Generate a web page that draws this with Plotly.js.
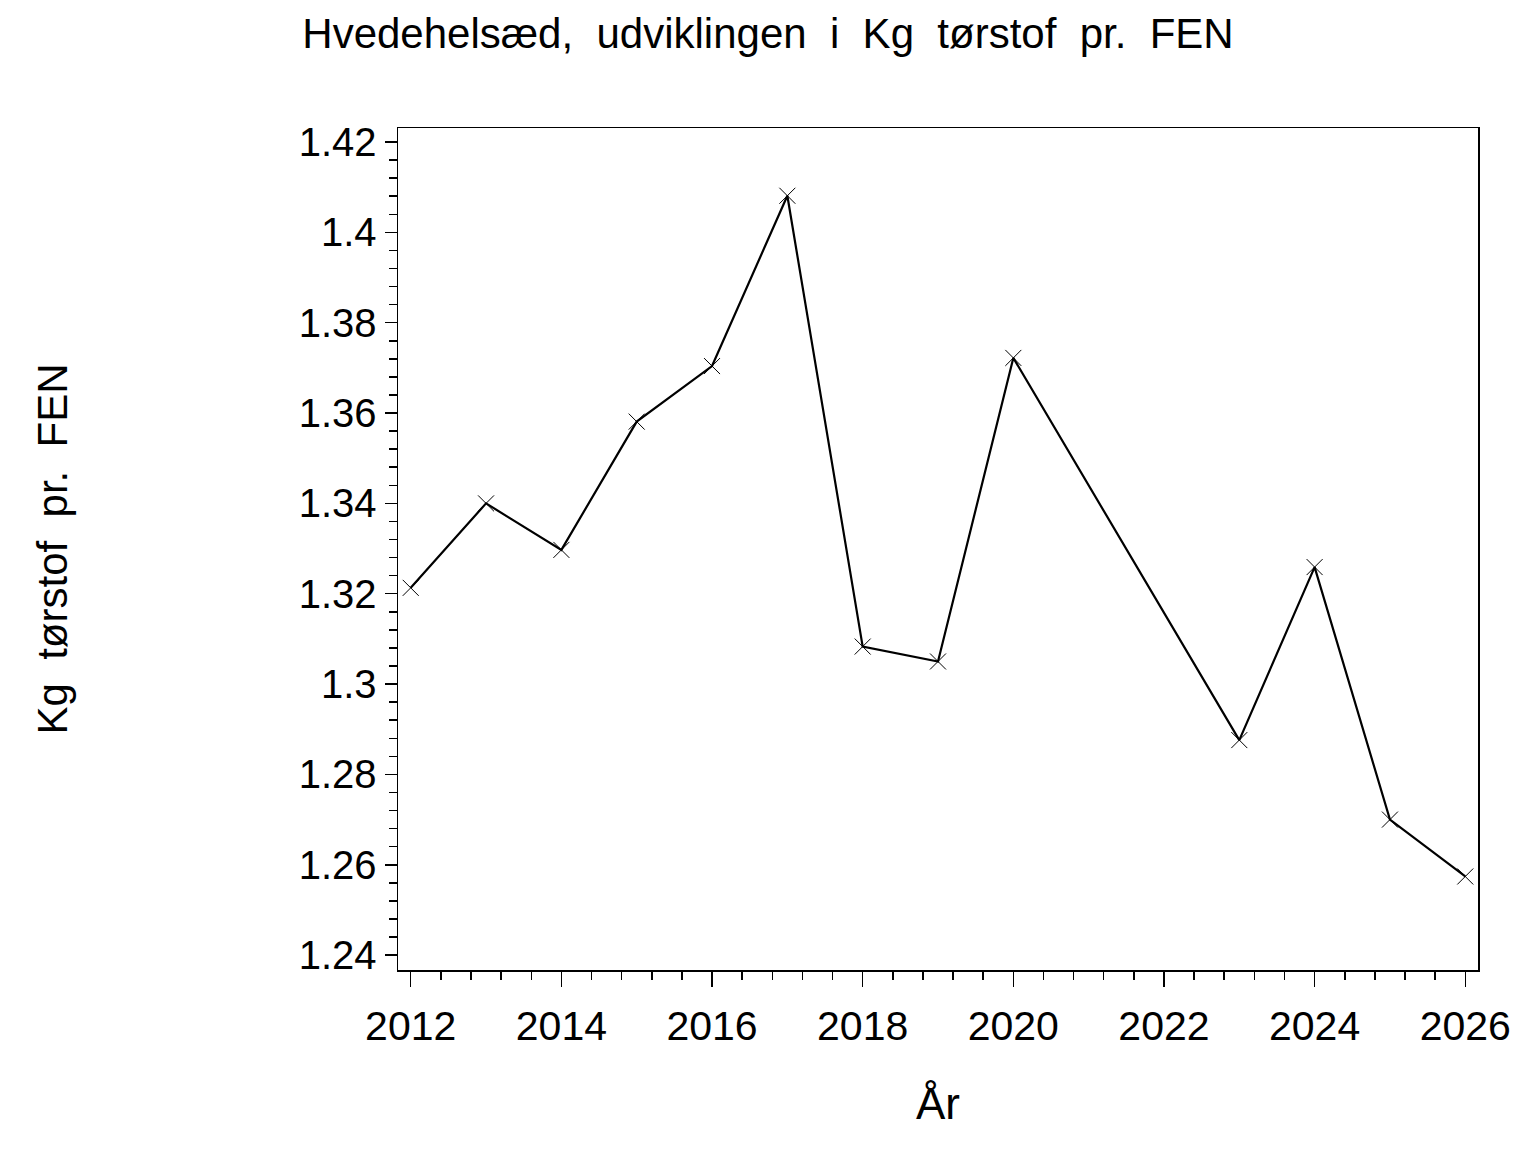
<!DOCTYPE html>
<html>
<head>
<meta charset="utf-8">
<script src="https://cdn.plot.ly/plotly-3.0.1.min.js"></script>
<style>html,body{margin:0;padding:0;background:#fff;}#chart{width:1536px;height:1152px;}</style>
</head>
<body>
<div id="chart"></div>
<script>
const years = [2012, 2013, 2014, 2015, 2016, 2017, 2018, 2019, 2020, 2023, 2024, 2025, 2026];
const kgPerFEN = [1.3213, 1.3400, 1.3297, 1.3581, 1.3704, 1.4081, 1.3083, 1.3050, 1.3722, 1.2876, 1.3259, 1.2700, 1.2574];
const titleText = "Hvedehelsæd,\u00a0 udviklingen\u00a0 i\u00a0 Kg\u00a0 tørstof\u00a0 pr.\u00a0 FEN";
const xTitle = "År";
const yTitle = "Kg\u00a0 tørstof\u00a0 pr.\u00a0 FEN";

const font = "Liberation Sans, Arial, Helvetica, sans-serif";

const trace = {
  x: years,
  y: kgPerFEN,
  type: "scatter",
  mode: "lines+markers",
  line: {color: "#000", width: 2.2},
  marker: {symbol: "x-thin-open", size: 16, color: "#000", line: {color: "#000", width: 1}},
  showlegend: false,
  hoverinfo: "x+y"
};

const layout = {
  width: 1536,
  height: 1152,
  paper_bgcolor: "#fff",
  plot_bgcolor: "#fff",
  margin: {l: 398, r: 58, t: 128, b: 182, pad: 0},
  font: {family: font, color: "#000"},
  title: {
    text: titleText,
    font: {size: 42, family: font, color: "#000"},
    x: 0.5, xref: "container", xanchor: "center",
    y: 1 - 19/1152, yref: "container", yanchor: "top"
  },
  xaxis: {
    range: [2011.831, 2026.169],
    dtick: 2, tick0: 2012,
    ticks: "outside", ticklen: 15, tickwidth: 1.5, tickcolor: "#000",
    minor: {dtick: 0.4, tick0: 2012, ticks: "outside", ticklen: 8, tickwidth: 1.5, tickcolor: "#000"},
    showgrid: false, zeroline: false,
    showline: true, linecolor: "#000", linewidth: 1.5, mirror: true,
    tickfont: {size: 41, family: font, color: "#000"},
    ticklabelstandoff: 4,
    title: {text: xTitle, font: {size: 44, family: font, color: "#000"}, standoff: 40},
    automargin: false
  },
  yaxis: {
    range: [1.2367, 1.4231],
    dtick: 0.02, tick0: 1.24,
    ticks: "outside", ticklen: 12, tickwidth: 1.5, tickcolor: "#000",
    minor: {dtick: 0.004, tick0: 1.24, ticks: "outside", ticklen: 8, tickwidth: 1.5, tickcolor: "#000"},
    showgrid: false, zeroline: false,
    showline: true, linecolor: "#000", linewidth: 1.5, mirror: true,
    tickfont: {size: 40, family: font, color: "#000"},
    title: {text: yTitle, font: {size: 42, family: font, color: "#000"}, standoff: 218},
    automargin: false
  }
};

Plotly.newPlot("chart", [trace], layout, {displayModeBar: false, staticPlot: true});
</script>
</body>
</html>
